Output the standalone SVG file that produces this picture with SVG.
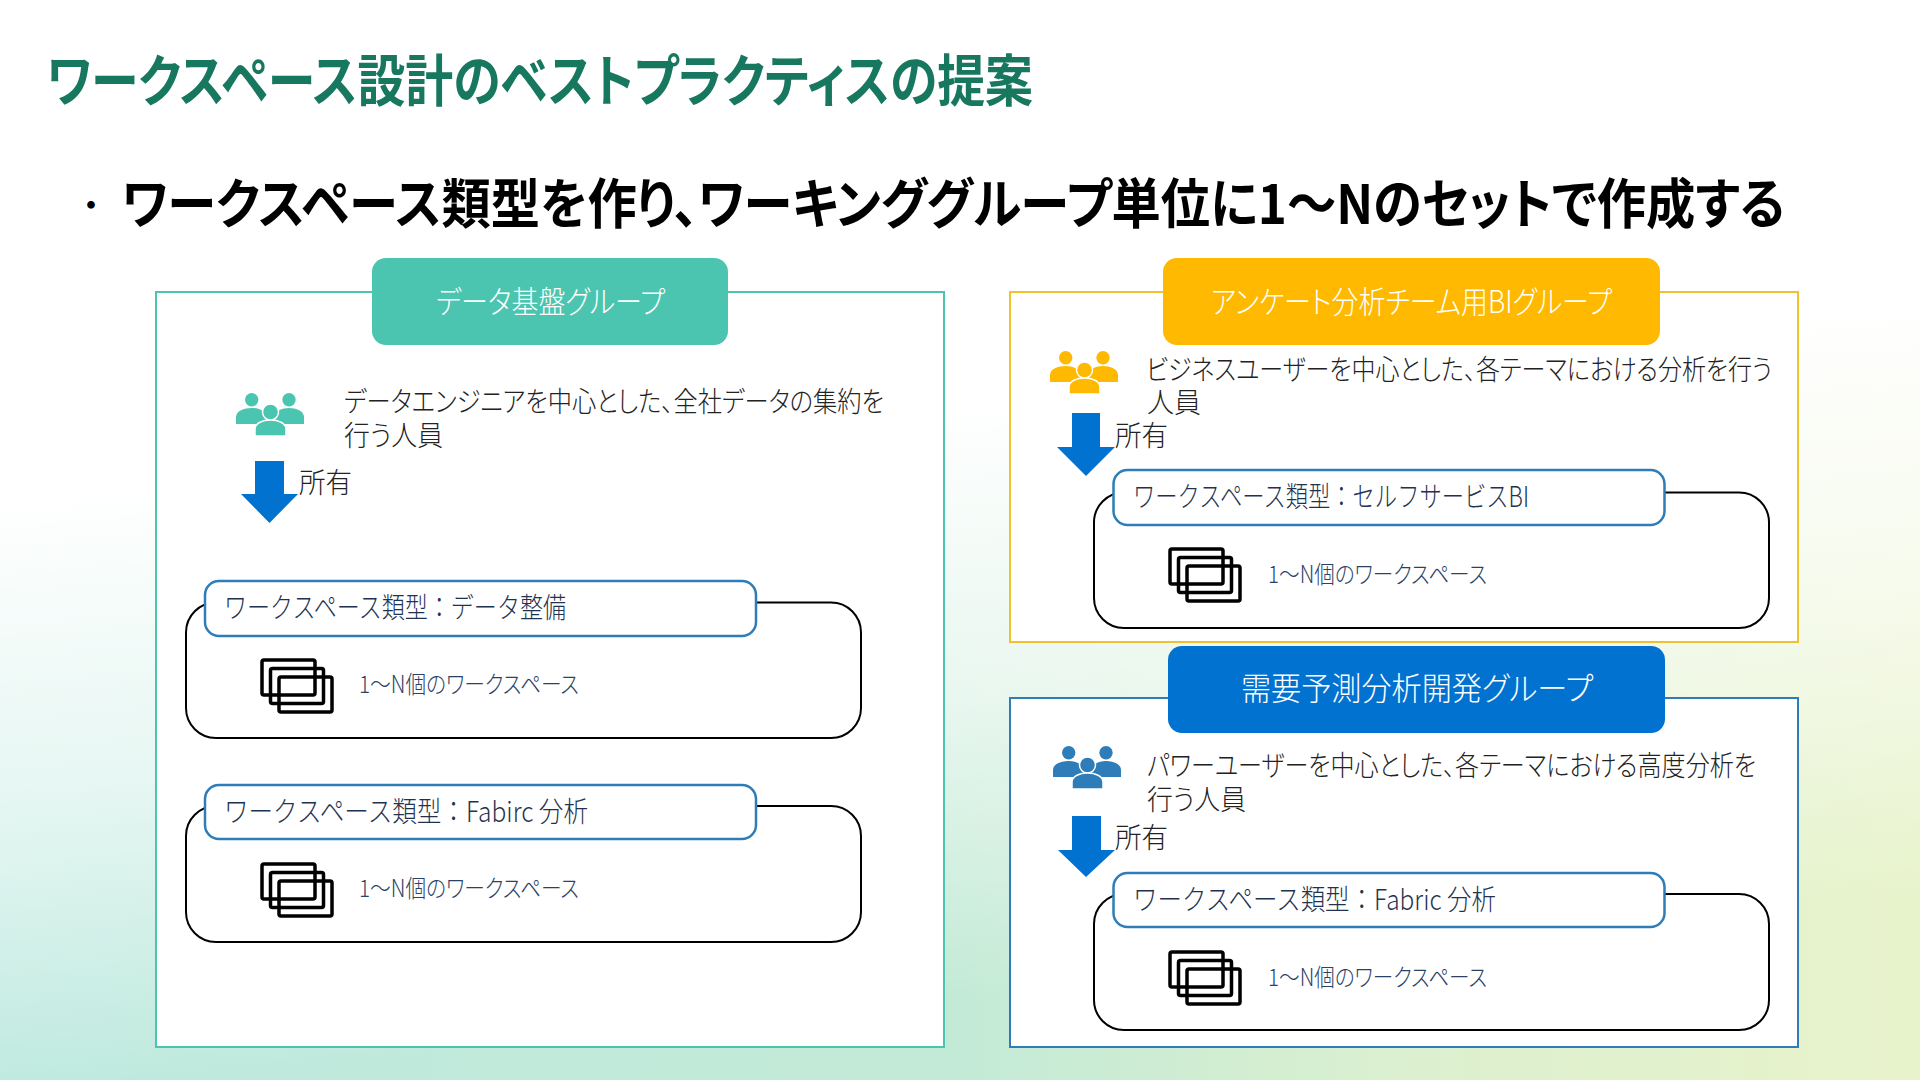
<svg xmlns="http://www.w3.org/2000/svg" width="1920" height="1080" viewBox="0 0 1920 1080">
<style>
text{font-family:"Noto Sans CJK JP","Noto Sans",sans-serif;font-feature-settings:"palt";}
.title{font-size:56px;font-weight:700;fill:#17785F}
.lead{font-size:54px;font-weight:700;fill:#000}
.dot{font-size:36px;fill:#000;font-feature-settings:normal}
.hd{font-size:31px;font-weight:300;fill:#fff}
.desc{font-size:28px;font-weight:300;fill:#222}
.own{font-size:28px;font-weight:300;fill:#222}
.ty{font-size:28px;font-weight:300;fill:#1F3350;font-feature-settings:normal}
.ws{font-size:24px;font-weight:300;fill:#2B4264}
.outer{fill:#fff;stroke:#000;stroke-width:2}
.lab{fill:#fff;stroke:#2E7DB8;stroke-width:2.5}
.st{fill:none;stroke:#000;stroke-width:3.5}
</style>
<defs>
<linearGradient id="h" x1="0" y1="0" x2="1" y2="0"><stop offset="0" stop-color="#BDE9DF"/><stop offset=".5" stop-color="#C3EAD6"/><stop offset=".75" stop-color="#DDF0CF"/><stop offset="1" stop-color="#E8F3CB"/></linearGradient>
<linearGradient id="v" gradientUnits="userSpaceOnUse" x1="0" y1="500" x2="62" y2="1094"><stop offset="0" stop-color="#fff" stop-opacity="1"/><stop offset=".5" stop-color="#fff" stop-opacity=".62"/><stop offset="1" stop-color="#fff" stop-opacity="0"/></linearGradient>
<g id="people">
<circle cx="15.700" cy="6.700" r="6.700"/><circle cx="53" cy="6.700" r="6.700"/>
<path d="M0 31V24C0 18 8 15 15.700 15S29 18 31 24V31Z"/>
<path d="M68 31V24C68 18 60 15 53 15S39 18 37 24V31Z"/>
<circle cx="34.500" cy="19" r="8" stroke="#fff" stroke-width="1.500"/>
<path d="M19 43V36C19 30 27 27 34.500 27S50 30 50 36V43Z" stroke="#fff" stroke-width="1.500"/>
</g>
<g id="stack">
<rect class="st" x="0" y="0" width="53" height="35" rx="2"/>
<rect class="st" x="8.500" y="8.500" width="53" height="35" rx="2"/>
<rect class="st" x="17" y="17" width="53" height="35" rx="2"/>
</g>
</defs>
<rect width="1920" height="1080" fill="url(#h)"/>
<rect width="1920" height="1080" fill="url(#v)"/>
<text class="title" x="47" y="101" textLength="986" lengthAdjust="spacingAndGlyphs">ワークスペース設計のベストプラクティスの提案</text>
<text class="dot" x="73" y="219">・</text>
<text class="lead" x="122" y="224" textLength="1663" lengthAdjust="spacingAndGlyphs">ワークスペース類型を作り、ワーキンググループ単位に1～Nのセットで作成する</text>

<g id="panel-data">
<rect x="156" y="292" width="788" height="755" fill="#fff" stroke="#4CC5B0" stroke-width="2"/>
<rect x="372" y="258" width="356" height="87" rx="14" fill="#4CC5B0"/>
<text class="hd" x="436" y="313" textLength="229" lengthAdjust="spacingAndGlyphs">データ基盤グループ</text>
<use href="#people" x="236" y="393" fill="#4CC5B0"/>
<text class="desc" x="344" y="412" textLength="540" lengthAdjust="spacingAndGlyphs">データエンジニアを中心とした、全社データの集約を</text>
<text class="desc" x="344" y="446" textLength="99" lengthAdjust="spacingAndGlyphs">行う人員</text>
<text class="own" x="299" y="493" textLength="53" lengthAdjust="spacingAndGlyphs">所有</text>
</g>
<g id="ws-data">
<rect class="outer" x="186" y="602.500" width="675" height="135.500" rx="30"/>
<rect class="lab" x="205" y="581" width="551" height="55" rx="14"/>
<text class="ty" x="224" y="618" textLength="342" lengthAdjust="spacingAndGlyphs">ワークスペース類型：データ整備</text>
<use href="#stack" x="262" y="660"/>
<text class="ws" x="359" y="693" textLength="220" lengthAdjust="spacingAndGlyphs">1～N個のワークスペース</text>
</g>
<g id="ws-fabirc">
<rect class="outer" x="186" y="806" width="675" height="136" rx="30"/>
<rect class="lab" x="205" y="785" width="551" height="54" rx="14"/>
<text class="ty" x="224" y="822" textLength="364" lengthAdjust="spacingAndGlyphs">ワークスペース類型：Fabirc 分析</text>
<use href="#stack" x="262" y="864"/>
<text class="ws" x="359" y="897" textLength="220" lengthAdjust="spacingAndGlyphs">1～N個のワークスペース</text>
</g>

<g id="panel-survey">
<rect x="1010" y="292" width="788" height="350" fill="#fff" stroke="#F0C22E" stroke-width="2"/>
<rect x="1163" y="258" width="497" height="87" rx="14" fill="#FFB900"/>
<text class="hd" x="1211" y="313" textLength="401" lengthAdjust="spacingAndGlyphs">アンケート分析チーム用BIグループ</text>
<use href="#people" x="1050" y="351" fill="#FFB900"/>
<text class="desc" x="1146" y="380" textLength="626" lengthAdjust="spacingAndGlyphs">ビジネスユーザーを中心とした、各テーマにおける分析を行う</text>
<text class="desc" x="1147" y="413" textLength="54" lengthAdjust="spacingAndGlyphs">人員</text>
<text class="own" x="1115" y="446" textLength="53" lengthAdjust="spacingAndGlyphs">所有</text>
</g>
<g id="ws-selfbi">
<rect class="outer" x="1094" y="492.500" width="675" height="135.500" rx="30"/>
<rect class="lab" x="1113.500" y="470" width="551" height="55" rx="14"/>
<text class="ty" x="1133" y="507" textLength="396" lengthAdjust="spacingAndGlyphs">ワークスペース類型：セルフサービスBI</text>
<use href="#stack" x="1170" y="549"/>
<text class="ws" x="1268" y="583" textLength="219" lengthAdjust="spacingAndGlyphs">1～N個のワークスペース</text>
</g>

<g id="panel-forecast">
<rect x="1010" y="698" width="788" height="349" fill="#fff" stroke="#2E7DB8" stroke-width="2"/>
<rect x="1168" y="646" width="497" height="87" rx="14" fill="#0272D0"/>
<text class="hd" style="font-size:32px" x="1241" y="700" textLength="352" lengthAdjust="spacingAndGlyphs">需要予測分析開発グループ</text>
<use href="#people" x="1053" y="746" fill="#2E7DB8"/>
<text class="desc" x="1147" y="776" textLength="609" lengthAdjust="spacingAndGlyphs">パワーユーザーを中心とした、各テーマにおける高度分析を</text>
<text class="desc" x="1147" y="810" textLength="99" lengthAdjust="spacingAndGlyphs">行う人員</text>
<text class="own" x="1115" y="848" textLength="53" lengthAdjust="spacingAndGlyphs">所有</text>
</g>
<g id="ws-fabric">
<rect class="outer" x="1094" y="894" width="675" height="136" rx="30"/>
<rect class="lab" x="1113.500" y="873" width="551" height="54" rx="14"/>
<text class="ty" x="1133" y="910" textLength="363" lengthAdjust="spacingAndGlyphs">ワークスペース類型：Fabric 分析</text>
<use href="#stack" x="1170" y="952"/>
<text class="ws" x="1268" y="986" textLength="219" lengthAdjust="spacingAndGlyphs">1～N個のワークスペース</text>
</g>

<g id="connectors" fill="#0272D0">
<polygon points="255,461 284,461 284,494 298,494 269.500,523 241,494 255,494"/>
<polygon points="1072,413 1100,413 1100,447 1115,447 1086,476 1057,447 1072,447"/>
<polygon points="1072,816 1101,816 1101,850 1115,850 1086,877 1058,850 1072,850"/>
</g>
</svg>
